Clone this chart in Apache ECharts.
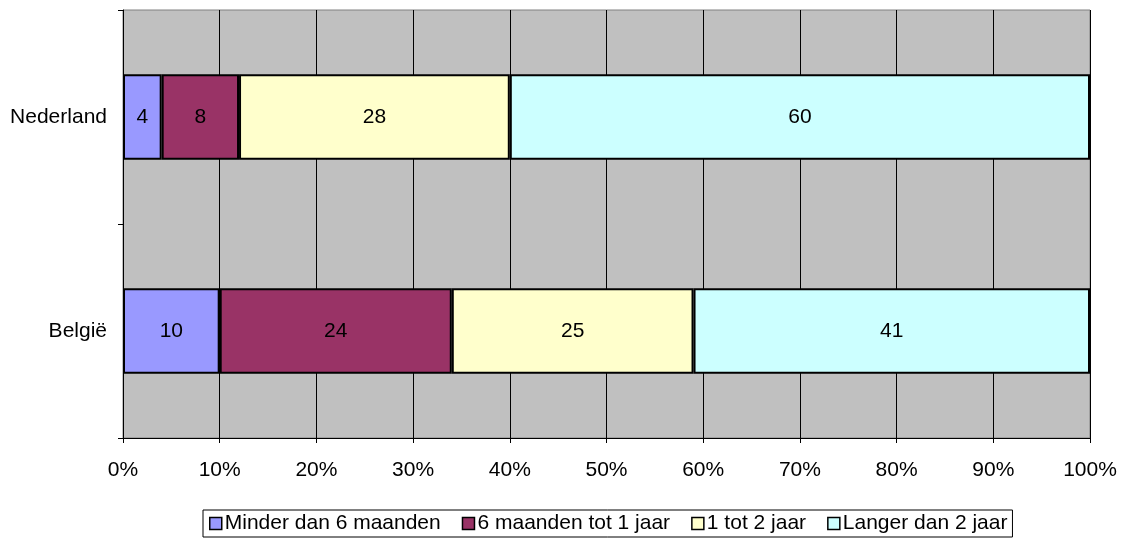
<!DOCTYPE html>
<html>
<head>
<meta charset="utf-8">
<script src="https://cdn.jsdelivr.net/npm/echarts@6/dist/echarts.min.js"></script>
<style>
  html, body { margin: 0; padding: 0; background: #fff; }
  #chart { width: 1122px; height: 540px; }
</style>
</head>
<body>
<div id="chart"></div>
<script>
  const categories = ['Nederland', 'België']
  const seriesNames = ['Minder dan 6 maanden', '6 maanden tot 1 jaar', '1 tot 2 jaar', 'Langer dan 2 jaar']
  const minder6m = [4, 10]
  const tot1jaar = [8, 24]
  const tot2jaar = [28, 25]
  const langer2jaar = [60, 41]
  const colors = ['#9999FF', '#993366', '#FFFFCC', '#CCFFFF']

  const values = [minder6m, tot1jaar, tot2jaar, langer2jaar]
  const font = 'Liberation Sans, Arial, sans-serif'

  const chart = echarts.init(document.getElementById('chart'))
  chart.setOption({
    animation: false,
    color: colors,
    textStyle: { fontFamily: font },
    grid: {
      left: 123, right: 32, top: 10, bottom: 102,
      show: true,
      backgroundColor: '#C0C0C0',
      borderColor: '#808080',
      borderWidth: 1
    },
    legend: {
      data: seriesNames,
      top: 510,
      left: 203,
      icon: 'rect',
      itemWidth: 12,
      itemHeight: 12,
      itemGap: 21,
      padding: [3, 5, 3, 6],
      borderColor: '#000',
      borderWidth: 1,
      textStyle: { fontSize: 21, color: '#000', fontFamily: font, padding: [0, 0, 0, -2] },
      itemStyle: { borderColor: '#000', borderWidth: 1.5 }
    },
    xAxis: {
      type: 'value',
      min: 0,
      max: 100,
      interval: 10,
      axisLine: { show: true, lineStyle: { color: '#000' } },
      axisTick: { show: true, length: 5, lineStyle: { color: '#000' } },
      axisLabel: { formatter: '{value}%', fontSize: 21, color: '#000', margin: 22 },
      splitLine: { show: true, lineStyle: { color: '#000', width: 1 } }
    },
    yAxis: {
      type: 'category',
      inverse: true,
      data: categories,
      axisLine: { show: true, lineStyle: { color: '#000' } },
      axisTick: { show: true, length: 5, lineStyle: { color: '#000' } },
      axisLabel: { fontSize: 21, color: '#000', margin: 16 },
      splitLine: { show: false }
    },
    series: seriesNames.map((name, i) => ({
      name: name,
      type: 'bar',
      stack: 'total',
      barWidth: '40%',
      data: values[i],
      itemStyle: { borderColor: '#000', borderWidth: 2 },
      label: { show: true, position: 'inside', color: '#000', fontSize: 21 }
    }))
  })
</script>
</body>
</html>
